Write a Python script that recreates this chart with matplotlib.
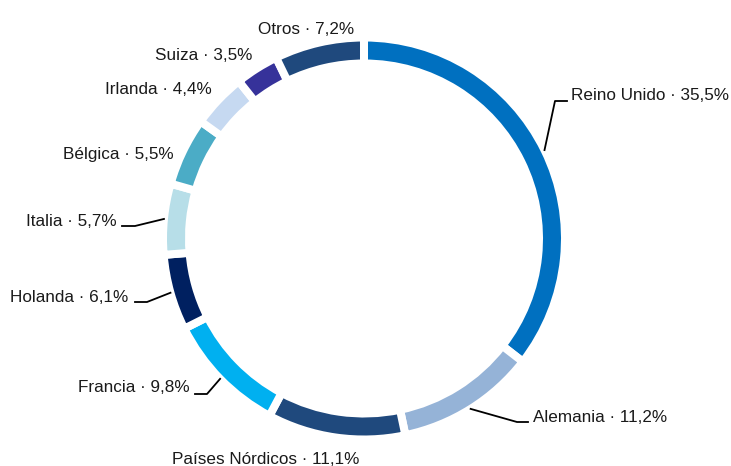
import matplotlib.pyplot as plt
import numpy as np

# datos: distribución por país (%)
paises = ['Reino Unido', 'Alemania', 'Países Nórdicos', 'Francia', 'Holanda',
          'Italia', 'Bélgica', 'Irlanda', 'Suiza', 'Otros']
valores = [35.5, 11.2, 11.1, 9.8, 6.1, 5.7, 5.5, 4.4, 3.5, 7.2]
colores = ['#0070C0', '#95B3D7', '#1F497D', '#00B0F0', '#002060',
           '#B7DEE8', '#4BACC6', '#C6D9F1', '#36329A', '#1F497D']

W, H = 731, 466
cx, cy = 364, 238.5      # centro en píxeles (y desde arriba)
r_ext, grosor, hueco = 197, 18, 8

# posición de cada etiqueta: (x, y, alineación, codo de la línea guía o None)
etiquetas = {
    'Reino Unido': (571, 96, 'left', [(555, 101), (567, 101)]),
    'Alemania': (533, 417, 'left', [(517, 422), (528, 422)]),
    'Países Nórdicos': (266, 459, 'center', None),
    'Francia': (190, 388, 'right', [(207, 394), (195, 394)]),
    'Holanda': (128, 297, 'right', [(147, 302), (135, 302)]),
    'Italia': (117, 221, 'right', [(135, 226), (122, 226)]),
    'Bélgica': (174, 155, 'right', None),
    'Irlanda': (212, 89, 'right', None),
    'Suiza': (252, 56, 'right', None),
    'Otros': (306, 30, 'center', None),
}

plt.rcParams['font.family'] = ['Liberation Sans', 'DejaVu Sans']

fig = plt.figure(figsize=(W / 100, H / 100), dpi=100)
ax = fig.add_axes([0, 0, 1, 1])

lw = hueco * 72 / 100
ax.pie(valores, colors=colores, startangle=90, counterclock=False,
       center=(cx, H - cy), radius=r_ext + hueco / 2,
       wedgeprops=dict(width=grosor + hueco, edgecolor='white', linewidth=lw))

ax.set_xlim(0, W)
ax.set_ylim(0, H)
ax.set_aspect('auto')
ax.axis('off')

# ángulos medios de cada sector para las líneas guía
acum = np.cumsum([0] + valores[:-1])
ang_medio = np.deg2rad(90 - (acum + np.array(valores) / 2) * 3.6)

for i, pais in enumerate(paises):
    x, y, ha, codo = etiquetas[pais]
    texto = f"{pais} · {valores[i]:.1f}%".replace('.', ',')
    ax.text(x, H - y, texto, ha=ha, va='center', fontsize=12.3, color='#1a1a1a')
    if codo:
        r = r_ext + 4
        x0 = cx + r * np.cos(ang_medio[i])
        y0 = cy - r * np.sin(ang_medio[i])
        xs = [x0] + [p[0] for p in codo]
        ys = [H - y0] + [H - p[1] for p in codo]
        ax.plot(xs, ys, color='black', lw=1.3)

fig.savefig('out.png', dpi=100)
